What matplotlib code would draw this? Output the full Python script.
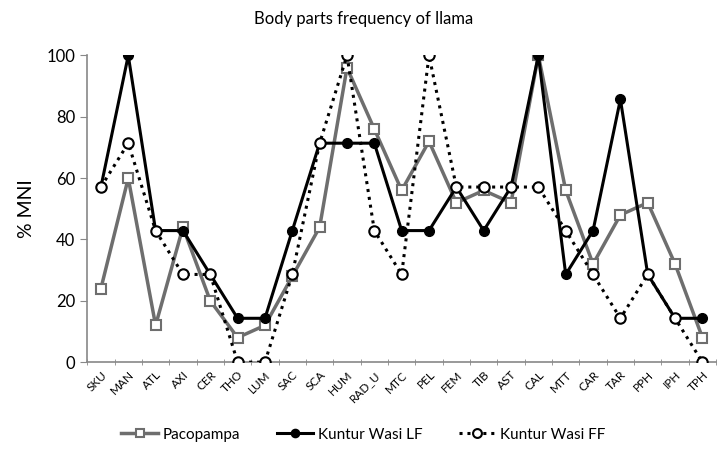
import matplotlib
matplotlib.use("Agg")
import matplotlib.pyplot as plt
import numpy as np

plt.rcParams['font.family'] = ['Lato', 'DejaVu Sans']

parts = ['SKU', 'MAN', 'ATL', 'AXI', 'CER', 'THO', 'LUM', 'SAC', 'SCA', 'HUM', 'RAD_U',
         'MTC', 'PEL', 'FEM', 'TIB', 'AST', 'CAL', 'MTT', 'CAR', 'TAR', 'PPH', 'IPH', 'TPH']
pacopampa = [24, 60, 12, 44, 20, 8, 12, 28, 44, 96, 76, 56, 72, 52, 56, 52, 100, 56, 32, 48, 52, 32, 8]
kuntur_lf = [57.1, 100, 42.9, 42.9, 28.6, 14.3, 14.3, 42.9, 71.4, 71.4, 71.4, 42.9, 42.9, 57.1,
             42.9, 57.1, 100, 28.6, 42.9, 85.7, 28.6, 14.3, 14.3]
kuntur_ff = [57.1, 71.4, 42.9, 28.6, 28.6, 0, 0, 28.6, 71.4, 100, 42.9, 28.6, 100, 57.1,
             57.1, 57.1, 57.1, 42.9, 28.6, 14.3, 28.6, 14.3, 0]

x = np.arange(len(parts))

fig = plt.figure(figsize=(7.27, 4.51), dpi=100)
ax = fig.add_axes([0.12, 0.197, 0.865, 0.68])

ax.plot(x, pacopampa, color='#6e6e6e', lw=2.5, marker='s', ms=6.5, mfc='white',
        mec='#6e6e6e', mew=1.5, label='Pacopampa', zorder=2)
ax.plot(x, kuntur_lf, color='black', lw=2.2, marker='o', ms=7, mfc='black',
        mec='black', label='Kuntur Wasi LF', zorder=3)
ax.plot(x, kuntur_ff, color='black', lw=2.2, ls=(0, (1, 1.6)), marker='o', ms=7.5,
        mfc='white', mec='black', mew=1.5, label='Kuntur Wasi FF', zorder=4)

ax.set_xlim(-0.5, len(parts) - 0.5)
ax.set_ylim(0, 100)
ax.set_yticks([0, 20, 40, 60, 80, 100])
ax.set_xticks(x)
ax.set_xticklabels(parts, rotation=45, ha='right', rotation_mode='anchor', fontsize=8.5)
ax.set_xticks(np.arange(-0.5, len(parts)), minor=True)
ax.tick_params(axis='x', which='major', length=0, pad=5)
ax.tick_params(axis='x', which='minor', length=5, color='#888888', direction='inout')
ax.tick_params(axis='y', labelsize=12, length=5, color='#888888')

for s in ['top', 'right']:
    ax.spines[s].set_visible(False)
ax.spines['left'].set_color('#888888')
ax.spines['bottom'].set_color('#888888')
ax.spines['left'].set_linewidth(1.2)
ax.spines['bottom'].set_linewidth(1.2)

ax.set_ylabel('% MNI', fontsize=14, labelpad=8)
fig.suptitle('Body parts frequency of llama', fontsize=12, x=0.5, y=0.975)
for lbl in ax.get_xticklabels():
    lbl.set_clip_on(False)

fig.legend(loc='lower center', ncol=3, frameon=False, fontsize=11,
           bbox_to_anchor=(0.5, -0.01), handlelength=2.4, handletextpad=0.3,
           columnspacing=2.4, markerscale=0.85)

fig.savefig('out.png', dpi=100)
